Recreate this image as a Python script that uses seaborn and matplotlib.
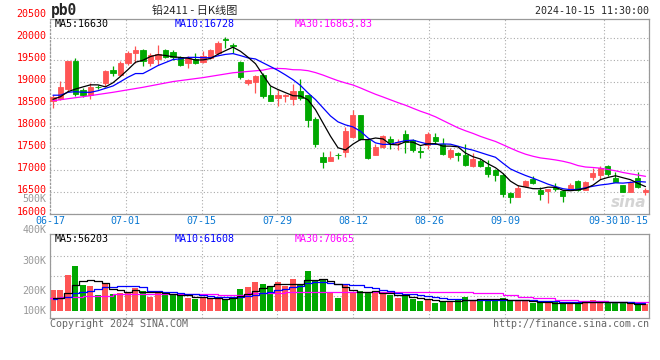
import matplotlib
matplotlib.use("Agg")
import matplotlib.pyplot as plt
import matplotlib.transforms as mtransforms
import numpy as np
import pandas as pd
import seaborn as sns

# ---- data (pb2411 daily, 2024-06-17 .. 2024-10-15) ----
opens = [18560, 18619, 18838, 19483, 18808, 18710, 18890, 18975, 19263, 19165,
         19430, 19657, 19718, 19430, 19521, 19733, 19672, 19566, 19430, 19521,
         19445, 19543, 19657, 19970, 19840, 19445, 18975, 18990, 19165, 18705,
         18643, 18680, 18607, 18795, 18705, 18152, 17289, 17212, 17350, 17416,
         17760, 18250, 17682, 17340, 17516, 17704, 17610, 17818, 17682, 17430,
         17568, 17740, 17600, 17300, 17380, 17340, 17080, 17200, 17060, 17000,
         16886, 16470, 16395, 16636, 16795, 16545, 16525, 16610, 16520, 16545,
         16750, 16545, 16850, 16886, 17090, 16810, 16660, 16510, 16810, 16510]
highs = [18700, 19013, 19480, 19544, 18860, 18975, 18940, 19278, 19354, 19483,
         19695, 19809, 19748, 19657, 19847, 19740, 19733, 19581, 19581, 19657,
         19695, 19748, 19923, 20030, 19893, 19468, 19066, 19165, 19203, 18900,
         18818, 18727, 18955, 19060, 18710, 18197, 17416, 17440, 17380, 17984,
         18360, 18260, 17700, 17600, 17800, 17780, 17700, 17909, 17700, 17550,
         17860, 17840, 17720, 17500, 17420, 17590, 17380, 17250, 17220, 17030,
         16925, 16510, 16660, 16780, 16870, 16620, 16560, 16700, 16545, 16700,
         16780, 16740, 17040, 17090, 17110, 16950, 16660, 16740, 16960, 16585]
lows = [18420, 18600, 18800, 18672, 18657, 18610, 18840, 18900, 19142, 19127,
        19392, 19430, 19354, 19354, 19392, 19540, 19506, 19354, 19316, 19415,
        19430, 19521, 19620, 19766, 19666, 19066, 18937, 18748, 18634, 18560,
        18455, 18553, 18477, 18590, 17984, 17516, 17039, 17212, 17250, 17302,
        17720, 17680, 17250, 17330, 17500, 17480, 17450, 17380, 17420, 17270,
        17470, 17600, 17340, 17250, 17200, 17080, 17070, 17060, 16850, 16740,
        16380, 16240, 16380, 16610, 16680, 16320, 16240, 16520, 16280, 16545,
        16520, 16540, 16770, 16800, 16860, 16730, 16495, 16510, 16585, 16430]
closes = [18650, 18884, 19468, 18732, 18710, 18884, 18880, 19240, 19203, 19430,
          19657, 19718, 19468, 19620, 19642, 19566, 19566, 19392, 19543, 19430,
          19581, 19718, 19885, 19955, 19818, 19112, 19051, 19142, 18672, 18575,
          18705, 18695, 18795, 18643, 18136, 17584, 17190, 17289, 17330, 17886,
          18250, 17704, 17280, 17516, 17780, 17630, 17645, 17643, 17455, 17410,
          17818, 17670, 17360, 17455, 17330, 17115, 17250, 17100, 16910, 16886,
          16455, 16380, 16585, 16750, 16710, 16448, 16560, 16560, 16415, 16660,
          16545, 16720, 16940, 17040, 16910, 16735, 16495, 16720, 16620, 16545]
# volume, thousand lots
volumes = [161, 161, 278, 351, 200, 193, 122, 208, 130, 140,
           140, 179, 154, 109, 140, 122, 122, 122, 96, 88,
           96, 101, 101, 83, 109, 169, 185, 224, 208, 182,
           224, 193, 247, 211, 310, 239, 239, 143, 101, 200,
           140, 154, 140, 135, 127, 122, 96, 117, 88, 76,
           83, 57, 78, 76, 83, 109, 83, 88, 91, 78,
           101, 76, 76, 76, 62, 57, 57, 65, 65, 57,
           65, 76, 83, 76, 57, 57, 57, 52, 52, 52]

# moving-average values visible before enough bars exist in the window
ma5_head = [18607, 18666, 18780, 18840]
ma10_head = [18700, 18700, 18766, 18780, 18766, 18766, 18802, 18857, 18910]
ma30_head_idx = [0, 4, 8, 12, 16, 20, 24, 28]
ma30_head = [18575, 18666, 18766, 18880, 19010, 19100, 19210, 19270]
vma5_head = [96, 101, 140, 200]
vma10_head = [91, 96, 109, 135, 148, 154, 166, 182, 187]
vma30_idx = [-0.4, 1, 4, 8, 22, 26, 31, 56, 60, 62, 64, 67, 70, 74, 79.47]
vma30_val = [96, 107, 117, 127, 122, 140, 146, 135, 122, 109, 96, 83, 76, 71, 71]

date_labels = ["06-17", "07-01", "07-15", "07-29", "08-12", "08-26", "09-09", "09-30", "10-15"]
date_idx = [0, 10, 20, 30, 40, 50, 60, 73, 79]
price_ticks = [16000, 16500, 17000, 17500, 18000, 18500, 19000, 19500, 20000, 20500]
vol_labels = ["500K", "400K", "300K", "200K", "100K"]

RED, GREEN = "#ff5555", "#00a800"
MONO = "DejaVu Sans Mono"

sns.set_style("white")
plt.rcParams["font.family"] = [MONO, "Noto Sans CJK SC"]

df = pd.DataFrame({"open": opens, "high": highs, "low": lows, "close": closes, "vol": volumes})
df["x"] = np.arange(len(df))
df["color"] = np.where(df["close"] >= df["open"], RED, GREEN)

ma5 = df["close"].rolling(5).mean()
ma5.iloc[:4] = ma5_head
ma10 = df["close"].rolling(10).mean()
ma10.iloc[:9] = ma10_head
ma30_roll = df["close"].rolling(30).mean()
ma30 = pd.DataFrame({"x": ma30_head_idx + list(range(29, 80)),
                     "y": ma30_head + list(ma30_roll.iloc[29:])})
vma5 = df["vol"].rolling(5).mean()
vma5.iloc[:4] = vma5_head
vma10 = df["vol"].rolling(10).mean()
vma10.iloc[:9] = vma10_head

fig = plt.figure(figsize=(6.6, 3.6), dpi=100)
W, H = 660, 360
XL, XR = -0.4, 79.47


def px_axes(left, top, right, bottom):
    return fig.add_axes([left / W, 1 - bottom / H, (right - left) / W, (bottom - top) / H])


ax = px_axes(50, 19, 649, 214)
axv = px_axes(50, 234.3, 649, 318.3)

grid_x = [XL + i * (XR - XL) / 79 for i in date_idx]

# ---- price panel ----
ax.vlines(df["x"], df["low"], df["high"], colors=df["color"], linewidth=0.9, zorder=2)
body_lo = df[["open", "close"]].min(axis=1)
body_h = (df["close"] - df["open"]).abs()
ax.bar(df["x"], body_h, bottom=body_lo, width=0.67, color=df["color"],
       edgecolor=df["color"], linewidth=0.6, zorder=3)
sns.lineplot(data=ma30, x="x", y="y", ax=ax, color="#ff00ff", linewidth=0.9,
             estimator=None, sort=False, legend=False, zorder=4)
sns.lineplot(x=df["x"], y=ma10, ax=ax, color="#0000ff", linewidth=0.9,
             estimator=None, sort=False, legend=False, zorder=4)
sns.lineplot(x=df["x"], y=ma5, ax=ax, color="black", linewidth=0.9,
             estimator=None, sort=False, legend=False, zorder=5)

ax.set_xlim(XL, XR)
ax.set_ylim(16000, 20432)
ax.set_yticks(price_ticks[:-1])
ax.set_xticks(grid_x)
ax.grid(True, color="#aaaaaa", linestyle=(0, (1, 2)), linewidth=0.8)
ax.tick_params(length=0, labelleft=False, labelbottom=False)
ax.set_xlabel("")
ax.set_ylabel("")

ytr = ax.get_yaxis_transform()
for p in price_ticks:
    ax.text(-0.006, p + 45, str(p), transform=ytr, ha="right", va="center",
            color="red", fontsize=7.2, family=MONO, clip_on=False)
xtr = mtransforms.blended_transform_factory(ax.transData, ax.transAxes)
for gx, lab in zip(grid_x, date_labels):
    ha = "right" if lab == "10-15" else "center"
    ax.text(gx, -0.036, lab, transform=xtr, ha=ha, va="center",
            color="#0a78d2", fontsize=7.2, family=MONO, clip_on=False)

ax.text(5 / 599, 0.973, "MA5:16630", transform=ax.transAxes, color="black",
        fontsize=7.2, va="center", ha="left")
ax.text(125 / 599, 0.973, "MA10:16728", transform=ax.transAxes, color="#0000ff",
        fontsize=7.2, va="center", ha="left")
ax.text(245 / 599, 0.973, "MA30:16863.83", transform=ax.transAxes, color="#ff00ff",
        fontsize=7.2, va="center", ha="left")
ax.text(0.995, 0.06, "sina", transform=ax.transAxes, ha="right", va="center",
        color="#d4d4d4", fontsize=11, fontweight="bold", style="italic",
        family="DejaVu Sans", zorder=1)

# ---- volume panel ----
axv.bar(df["x"], df["vol"], width=0.8, color=df["color"], linewidth=0, zorder=2)
sns.lineplot(x=vma30_idx, y=vma30_val, ax=axv, color="#ff00ff", linewidth=0.9,
             estimator=None, sort=False, legend=False, drawstyle="steps-post", zorder=3)
sns.lineplot(x=df["x"], y=vma10, ax=axv, color="#0000ff", linewidth=0.9,
             estimator=None, sort=False, legend=False, drawstyle="steps-mid", zorder=3)
sns.lineplot(x=df["x"], y=vma5, ax=axv, color="black", linewidth=0.9,
             estimator=None, sort=False, legend=False, drawstyle="steps-mid", zorder=4)
axv.set_xlim(XL, XR)
axv.set_ylim(-59.3, 596)
axv.set_yticks([117, 273, 429])
axv.set_xticks(grid_x)
axv.grid(True, color="#aaaaaa", linestyle=(0, (1, 2)), linewidth=0.8)
axv.tick_params(length=0, labelleft=False, labelbottom=False)
axv.set_xlabel("")
axv.set_ylabel("")
axv.text(5 / 599, 0.95, "MA5:56203", transform=axv.transAxes, color="black",
         fontsize=7.2, va="center", ha="left")
axv.text(125 / 599, 0.95, "MA10:61608", transform=axv.transAxes, color="#0000ff",
         fontsize=7.2, va="center", ha="left")
axv.text(245 / 599, 0.95, "MA30:70665", transform=axv.transAxes, color="#ff00ff",
         fontsize=7.2, va="center", ha="left")

for a in (ax, axv):
    for s in a.spines.values():
        s.set_color("#999999")
        s.set_linewidth(0.9)
ax.spines["left"].set_linestyle((0, (1, 2)))

for lab, ypx in zip(vol_labels, [199, 230, 261, 290.7, 310.7]):
    fig.text(46.5 / W, 1 - ypx / H, lab, ha="right", va="center",
             color="#999999", fontsize=7.2, family=MONO)

# ---- header / footer ----
fig.text(51 / W, 1 - 10.5 / H, "pb0", ha="left", va="center", fontsize=10.5,
         fontweight="bold", family=MONO)
fig.text(195 / W, 1 - 10.5 / H, "铅2411 - 日K线图", ha="center", va="center",
         fontsize=8, family=["Noto Sans CJK SC", MONO])
fig.text(649 / W, 1 - 11 / H, "2024-10-15 11:30:00", ha="right", va="center",
         fontsize=7.2, family=MONO)
fig.text(50 / W, 1 - 324 / H, "Copyright 2024 SINA.COM", ha="left", va="center",
         fontsize=7.2, color="#666666", family=MONO)
fig.text(649 / W, 1 - 324 / H, "http://finance.sina.com.cn", ha="right", va="center",
         fontsize=7.2, color="#666666", family=MONO)

fig.savefig("out.png", dpi=100)
